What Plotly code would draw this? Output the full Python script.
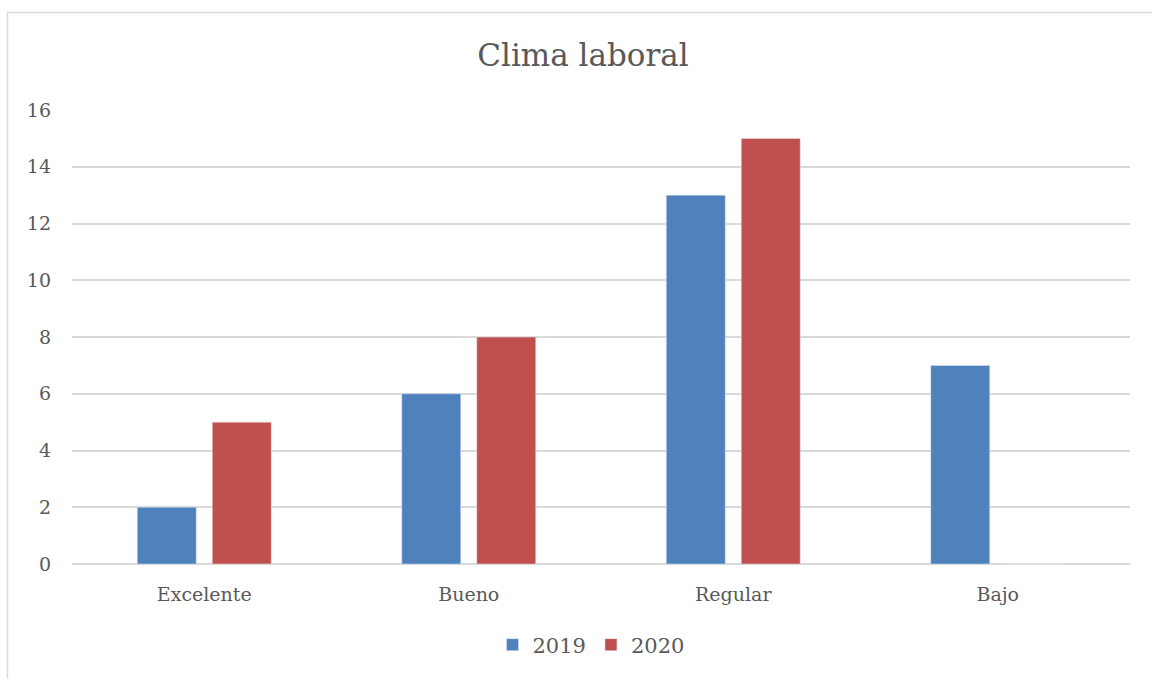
import plotly.graph_objects as go

categories = ["Excelente", "Bueno", "Regular", "Bajo"]
values_2019 = [2, 6, 13, 7]
values_2020 = [5, 8, 15, 0]
y_ticks = [0, 2, 4, 6, 8, 10, 12, 14, 16]

FONT = "DejaVu Serif"
TXT = "#595959"

fig = go.Figure()
fig.add_trace(go.Bar(name="2019", x=categories, y=values_2019, marker_color="#4f81bd"))
fig.add_trace(go.Bar(name="2020", x=categories, y=values_2020, marker_color="#c0504d"))

W, H = 1152, 679
L, R, T, B = 72, 22, 110, 115
pw = W - L - R
ph = H - T - B

def px_x(x):
    return (x - L) / pw

def px_y(y):
    return (H - B - y) / ph

fig.update_layout(
    width=W, height=H,
    margin=dict(l=L, r=R, t=T, b=B),
    paper_bgcolor="white", plot_bgcolor="white",
    barmode="group", bargap=0.433, bargroupgap=0.213,
    font=dict(family=FONT, color=TXT, size=19),
    title=dict(text="Clima laboral", x=583 / W, xanchor="center", y=1 - 55 / H, yanchor="middle",
               font=dict(family=FONT, size=31, color=TXT)),
    legend=dict(orientation="h", x=px_x(591), xanchor="center", y=px_y(645), yanchor="middle",
                font=dict(family=FONT, size=21, color=TXT), itemwidth=30, traceorder="normal"),
    xaxis=dict(showgrid=False, showline=False, ticks="", ticklabelstandoff=17,
               tickfont=dict(size=19, color=TXT)),
    yaxis=dict(range=[0, 16], tickvals=y_ticks, showgrid=True, gridcolor="#d9d9d9", gridwidth=1.5,
               zeroline=True, zerolinecolor="#d9d9d9", zerolinewidth=1.5, ticks="",
               ticklabelstandoff=20, tickfont=dict(size=19, color=TXT)),
    shapes=[dict(type="rect", xref="paper", yref="paper",
                 x0=px_x(7.5), x1=px_x(1300), y0=px_y(12.5), y1=px_y(800),
                 line=dict(color="#d9d9d9", width=1.5), fillcolor="rgba(0,0,0,0)", layer="below")],
)

fig.write_html("out.html")
